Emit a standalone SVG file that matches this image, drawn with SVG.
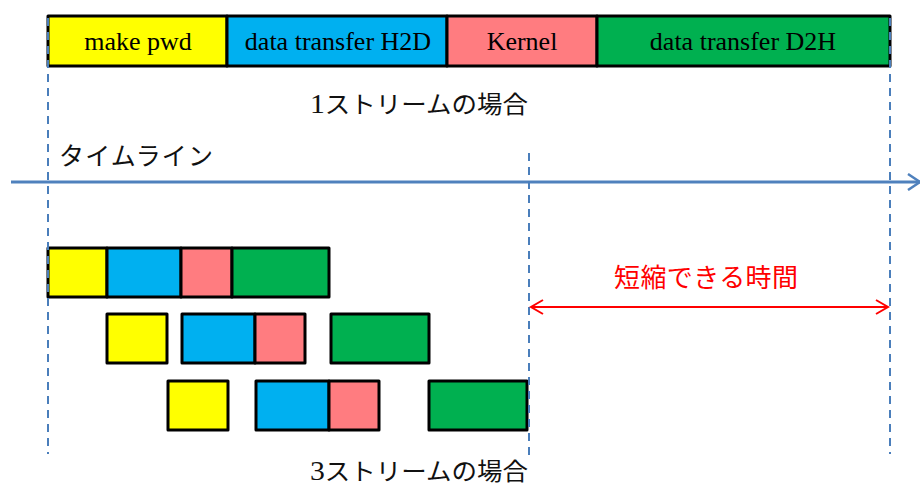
<svg xmlns="http://www.w3.org/2000/svg" width="920" height="489" viewBox="0 0 920 489">
  <defs>
    <style>
      .box { stroke: #000; stroke-width: 3; stroke-linejoin: round; }
      .mk { fill: #FFFF00; }
      .h2d { fill: #00B0F0; }
      .krn { fill: #FF7C80; }
      .d2h { fill: #00B050; }
      .lbl { font-family: "Liberation Serif", "Times New Roman", serif; font-size: 26px; fill: #000; text-anchor: middle; }
      .cap { font-family: "Liberation Serif", "Noto Sans CJK JP", serif; font-size: 24px; fill: #111; }
      .num { font-size: 28px; }
      .tl { font-family: "Noto Sans CJK JP", sans-serif; font-size: 25px; fill: #111; }
      .save { font-family: "Noto Sans CJK JP", sans-serif; font-size: 26px; fill: #FF0000; }
      .guide { stroke: #4A7EBB; stroke-width: 2; stroke-dasharray: 8 6; fill: none; }
    </style>
    <marker id="tlHead" markerWidth="16" markerHeight="18" refX="13" refY="9" orient="auto" markerUnits="userSpaceOnUse">
      <path d="M1,1 L13,9 L1,17" fill="none" stroke="#4F81BD" stroke-width="2.5"/>
    </marker>
    <marker id="redHead" markerWidth="16" markerHeight="16" refX="13" refY="8" orient="auto-start-reverse" markerUnits="userSpaceOnUse">
      <path d="M1,1 L13,8 L1,15" fill="none" stroke="#FF0000" stroke-width="2"/>
    </marker>
  </defs>

  <!-- single stream: one long bar -->
  <g id="s1-make"><rect class="box mk" x="48" y="16" width="179" height="50"/><text class="lbl" x="138" y="50">make pwd</text></g>
  <g id="s1-h2d"><rect class="box h2d" x="227" y="16" width="220" height="50"/><text class="lbl" x="338" y="50">data transfer H2D</text></g>
  <g id="s1-kernel"><rect class="box krn" x="447" y="16" width="150" height="50"/><text class="lbl" x="522" y="50">Kernel</text></g>
  <g id="s1-d2h"><rect class="box d2h" x="597" y="16" width="293" height="50"/><text class="lbl" x="743" y="50">data transfer D2H</text></g>

  <g id="caption-1"><text class="cap" x="310" y="113" textLength="218" lengthAdjust="spacingAndGlyphs"><tspan class="num">1</tspan>ストリームの場合</text></g>
  <g id="timeline-label"><text class="tl" x="59" y="165" textLength="154" lengthAdjust="spacing">タイムライン</text></g>

  <!-- three streams -->
  <g id="r1-make"><rect class="box mk" x="48" y="248" width="59" height="49"/></g>
  <g id="r1-h2d"><rect class="box h2d" x="107" y="248" width="74" height="49"/></g>
  <g id="r1-kernel"><rect class="box krn" x="181" y="248" width="51" height="49"/></g>
  <g id="r1-d2h"><rect class="box d2h" x="232" y="248" width="97" height="49"/></g>

  <g id="r2-make"><rect class="box mk" x="107" y="314" width="60" height="49"/></g>
  <g id="r2-h2d"><rect class="box h2d" x="182" y="314" width="73" height="49"/></g>
  <g id="r2-kernel"><rect class="box krn" x="255" y="314" width="50" height="49"/></g>
  <g id="r2-d2h"><rect class="box d2h" x="331" y="314" width="98" height="49"/></g>

  <g id="r3-make"><rect class="box mk" x="168" y="381" width="60" height="49"/></g>
  <g id="r3-h2d"><rect class="box h2d" x="256" y="381" width="73" height="49"/></g>
  <g id="r3-kernel"><rect class="box krn" x="329" y="381" width="50" height="49"/></g>
  <g id="r3-d2h"><rect class="box d2h" x="429" y="381" width="98" height="49"/></g>

  <g id="caption-3"><text class="cap" x="310" y="480" textLength="218" lengthAdjust="spacingAndGlyphs"><tspan class="num">3</tspan>ストリームの場合</text></g>
  <g id="saving-label"><text class="save" x="614" y="287" textLength="184" lengthAdjust="spacing">短縮できる時間</text></g>

  <!-- connectors: time axis, guides, saving span -->
  <g id="connectors">
    <line x1="11" y1="182" x2="920" y2="182" stroke="#4F81BD" stroke-width="3" marker-end="url(#tlHead)"/>
    <line class="guide" x1="48" y1="18" x2="48" y2="454"/>
    <line class="guide" x1="890" y1="18" x2="890" y2="454"/>
    <line class="guide" x1="529" y1="153" x2="529" y2="456"/>
    <line x1="531" y1="307" x2="888" y2="307" stroke="#FF0000" stroke-width="2" marker-start="url(#redHead)" marker-end="url(#redHead)"/>
  </g>
</svg>
